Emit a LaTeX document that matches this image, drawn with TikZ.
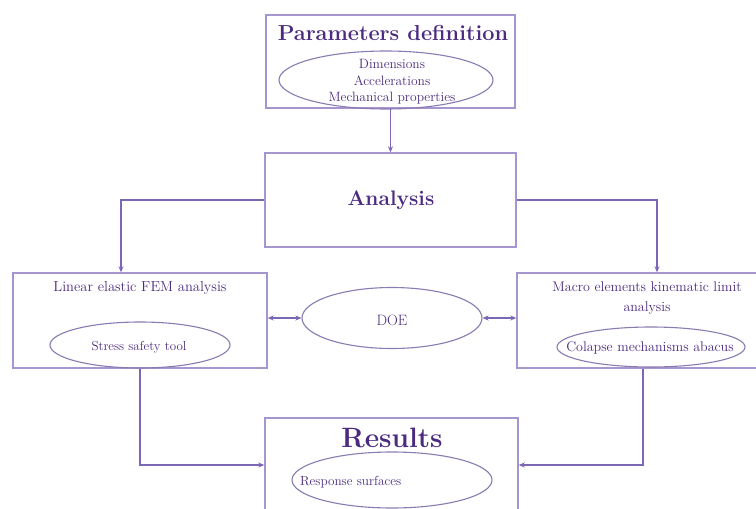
\documentclass[tikz,border=0pt]{standalone}
\usetikzlibrary{arrows.meta,shapes.geometric}
\definecolor{boxc}{HTML}{A596CF}
\definecolor{linec}{HTML}{7C67B4}
\definecolor{txtc}{HTML}{4B2B80}
\definecolor{ellc}{HTML}{8A7BB2}
\begin{document}
\begin{tikzpicture}[x=1pt,y=-1pt,
  box/.style={draw=boxc,line width=1.4pt,fill=white,rectangle,inner sep=0pt},
  oval/.style={draw=ellc,line width=1.1pt,ellipse,inner sep=0pt},
  lbl/.style={text=txtc,align=center,inner sep=0pt},
  arr/.style={draw=linec,line width=1.3pt,-{Stealth[length=6pt,width=5pt]}},
  dbl/.style={draw=linec,line width=1.3pt,{Stealth[length=6pt,width=5pt]}-{Stealth[length=6pt,width=5pt]}}]
\clip (0,0) rectangle (756,509);
\useasboundingbox (0,0) rectangle (756,509);
\fill[white] (0,0) rectangle (756,509);
% boxes
\node[box,minimum width=249pt,minimum height=93pt] (par) at (390.5,61.5) {};
\node[box,minimum width=251pt,minimum height=94pt] (ana) at (390.5,200) {};
\node[box,minimum width=254pt,minimum height=95pt] (lft) at (140,320.5) {};
\node[box,minimum width=240pt,minimum height=95pt] (rgt) at (637,320.5) {};
\node[box,minimum width=253pt,minimum height=94pt] (res) at (391.5,465) {};
% ellipses
\node[oval,minimum width=214pt,minimum height=58pt] (pell) at (386,80) {};
\node[oval,minimum width=180pt,minimum height=46pt] (sell) at (140,345) {};
\node[oval,minimum width=180pt,minimum height=61pt] (doe) at (392,318) {};
\node[oval,minimum width=188pt,minimum height=40pt] (cell) at (651,347) {};
\node[oval,minimum width=200pt,minimum height=56pt] (rell) at (392,480) {};
% texts
\node[lbl,font=\fontsize{21.7}{26}\selectfont\bfseries] (tpar) at (393,33) {Parameters definition};
\node[lbl,font=\fontsize{13.5}{16.5}\selectfont] (tpar2) at (392,82) {Dimensions\\Accelerations\\Mechanical properties};
\node[lbl,font=\fontsize{21}{25}\selectfont\bfseries] (tana) at (391,200) {Analysis};
\node[lbl,font=\fontsize{14.5}{17}\selectfont] (tlft) at (140,288) {Linear elastic FEM analysis};
\node[lbl,font=\fontsize{13}{15}\selectfont] (tsell) at (139,347) {Stress safety tool};
\node[lbl,font=\fontsize{15}{18}\selectfont] (tdoe) at (392,320) {DOE};
\node[lbl,font=\fontsize{14}{20}\selectfont] (trgt) at (647,298) {Macro elements kinematic limit\\analysis};
\node[lbl,font=\fontsize{14}{16}\selectfont] (tcell) at (650,348) {Colapse mechanisms abacus};
\node[lbl,font=\fontsize{28}{32}\selectfont\bfseries] (tres) at (392,438) {Results};
\node[lbl,font=\fontsize{13.2}{15}\selectfont,anchor=west] (tresp) at (300,482) {Response surfaces};
% connectors
\draw[arr] (par.south) -- (ana.north);
\draw[arr] (ana.west) -| ([xshift=-19pt]lft.north);
\draw[arr] (ana.east) -| ([xshift=20pt]rgt.north);
\draw[dbl] (lft.east |- doe.west) -- (doe.west);
\draw[dbl] (doe.east) -- (doe.east -| rgt.west);
\draw[arr] (lft.south) |- (res.west);
\draw[arr] ([xshift=6pt]rgt.south) |- (res.east);
\end{tikzpicture}
\end{document}
